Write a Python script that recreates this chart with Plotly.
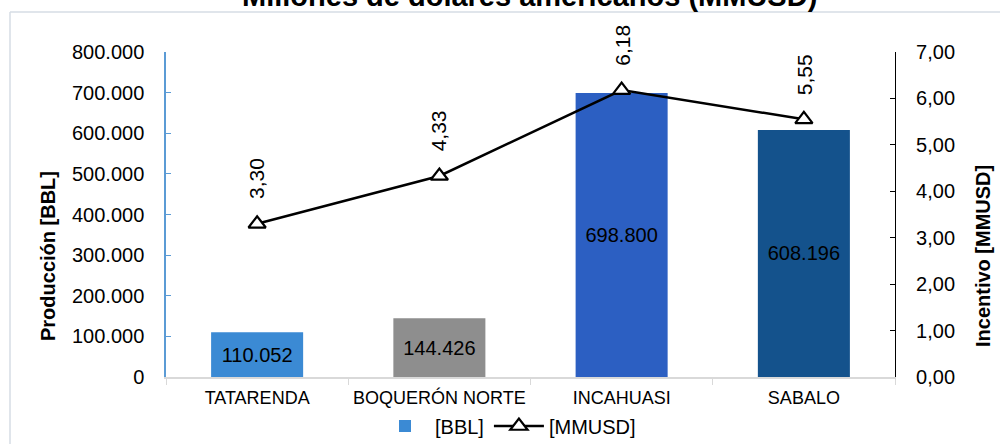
import plotly.graph_objects as go

# ---- data ----
categories = ["TATARENDA", "BOQUERÓN NORTE", "INCAHUASI", "SABALO"]
produccion_bbl = [110052, 144426, 698800, 608196]
incentivo_mmusd = [3.30, 4.33, 6.18, 5.55]
incentivo_labels = ["3,30", "4,33", "6,18", "5,55"]
bar_colors = ["#3b8ad4", "#8e8e8e", "#2c5fc2", "#14528c"]
left_tickvals = [0, 100000, 200000, 300000, 400000, 500000, 600000, 700000, 800000]
right_tickvals = [0, 1, 2, 3, 4, 5, 6, 7]
title_text = "Millones de dólares americanos (MMUSD)"

FONT = "Arial, Liberation Sans, sans-serif"

# plot-area geometry (pixels) used to convert to paper coords for decorations
L, R, T, B = 166, 895, 52, 377
W, H = 1000, 444
def px_x(px):
    return (px - L) / (R - L)
def px_y(py):
    return (B - py) / (B - T)

fig = go.Figure()

fig.add_trace(go.Bar(
    x=categories, y=produccion_bbl, name="[BBL]",
    marker=dict(color=bar_colors, line=dict(width=0)),
    texttemplate="%{y:,.0f}", textposition="inside", insidetextanchor="middle",
    textangle=0, constraintext="none",
    textfont=dict(family=FONT, size=20, color="black"),
    yaxis="y",
))

fig.add_trace(go.Scatter(
    x=categories, y=incentivo_mmusd, name="[MMUSD]", mode="lines+markers",
    line=dict(color="black", width=2.5),
    marker=dict(symbol="triangle-up", size=15, color="white",
                line=dict(color="black", width=2.2)),
    yaxis="y2",
))

annotations = []
for c, v, lab in zip(categories, incentivo_mmusd, incentivo_labels):
    annotations.append(dict(x=c, y=v, xref="x", yref="y2", text=lab,
                            showarrow=False, textangle=-90, yshift=45,
                            font=dict(family=FONT, size=21, color="black")))

annotations.append(dict(x=px_x(529), y=px_y(-4), xref="paper", yref="paper",
                        text="<b>" + title_text + "</b>", showarrow=False,
                        xanchor="center", yanchor="middle",
                        font=dict(family=FONT, size=29, color="black")))
annotations.append(dict(x=px_x(48), y=px_y(256), xref="paper", yref="paper",
                        text="<b>Producción [BBL]</b>", showarrow=False,
                        textangle=-90, xanchor="center", yanchor="middle",
                        font=dict(family=FONT, size=20, color="black")))
annotations.append(dict(x=px_x(983), y=px_y(256), xref="paper", yref="paper",
                        text="<b>Incentivo [MMUSD]</b>", showarrow=False,
                        textangle=-90, xanchor="center", yanchor="middle",
                        font=dict(family=FONT, size=20, color="black")))

shapes = [
    dict(type="line", xref="paper", yref="paper", x0=px_x(10), x1=px_x(1010),
         y0=px_y(12), y1=px_y(12), line=dict(color="#d6dce5", width=1.5)),
    dict(type="line", xref="paper", yref="paper", x0=px_x(10), x1=px_x(10),
         y0=px_y(12), y1=px_y(460), line=dict(color="#d6dce5", width=1.5)),
]

fig.update_layout(
    width=W, height=H,
    margin=dict(l=L, r=W - R, t=T, b=H - B, pad=0, autoexpand=False),
    paper_bgcolor="white", plot_bgcolor="white",
    separators=",.",
    font=dict(family=FONT, size=20, color="black"),
    bargap=0.495,
    showlegend=True,
    legend=dict(orientation="h", xref="container", yref="container",
                x=508 / W, xanchor="center",
                y=1 - 426 / H, yanchor="middle",
                font=dict(family=FONT, size=20, color="black"),
                bgcolor="rgba(0,0,0,0)", itemwidth=50, tracegroupgap=0),
    xaxis=dict(showgrid=False, showline=True, linecolor="#d9d9d9", linewidth=1.5,
               ticks="outside", tickson="boundaries", ticklen=6, tickcolor="#d9d9d9",
               tickfont=dict(family=FONT, size=18, color="black"),
               ticklabelstandoff=4, automargin=False),
    yaxis=dict(range=[0, 800000], tickvals=left_tickvals, tickformat=",.0f",
               showgrid=False, zeroline=False, showline=True, linecolor="#5b9bd5",
               linewidth=1.5, ticks="inside", ticklen=5, tickcolor="#5b9bd5",
               tickfont=dict(family=FONT, size=20, color="black"),
               ticklabelstandoff=16, automargin=False),
    yaxis2=dict(range=[0, 7], tickvals=right_tickvals, tickformat=".2f",
                overlaying="y", side="right", showgrid=False, zeroline=False,
                showline=True, linecolor="black", linewidth=1.2,
                ticks="inside", ticklen=5, tickcolor="black",
                tickfont=dict(family=FONT, size=20, color="black"),
                ticklabelstandoff=16, automargin=False),
    annotations=annotations,
    shapes=shapes,
)

fig.write_html(
    "out.html",
    config={"displayModeBar": False},
    post_script="document.body.style.margin='0';document.body.style.overflow='hidden';",
)
